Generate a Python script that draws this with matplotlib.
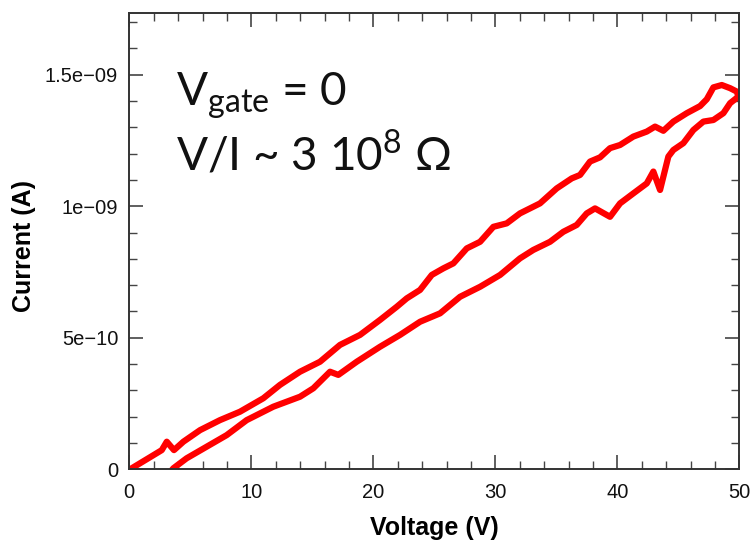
import numpy as np
import matplotlib
matplotlib.use('Agg')
import matplotlib.pyplot as plt
from matplotlib.ticker import FixedLocator, FixedFormatter, MultipleLocator

plt.rcParams['font.family'] = ['Liberation Sans', 'DejaVu Sans']
plt.rcParams['mathtext.fontset'] = 'custom'
plt.rcParams['mathtext.rm'] = 'Lato'

# forward sweep (upper branch): voltage in V, current in units of 1e-10 A
v_up = [-0.1, 0.20, 1.70, 2.66, 3.07, 3.66, 4.43, 5.80, 7.43, 9.07, 10.98, 12.35,
        13.99, 15.63, 17.27, 18.91, 20.55, 21.92, 22.74, 23.83, 24.79, 25.74,
        26.56, 27.66, 28.75, 29.84, 30.93, 32.02, 33.66, 35.03, 36.26, 36.94,
        37.76, 38.58, 39.40, 40.22, 41.31, 42.41, 43.09, 43.77, 44.59, 45.69,
        46.78, 47.33, 47.87, 48.56, 49.24, 49.79, 49.92]
i_up = [-0.05, 0.04, 0.46, 0.73, 1.05, 0.73, 1.05, 1.49, 1.87, 2.19, 2.70, 3.21,
        3.71, 4.09, 4.73, 5.11, 5.68, 6.18, 6.50, 6.82, 7.39, 7.64,
        7.83, 8.40, 8.65, 9.22, 9.35, 9.73, 10.11, 10.68, 11.06, 11.19,
        11.70, 11.86, 12.21, 12.33, 12.65, 12.84, 13.03, 12.87, 13.22, 13.54,
        13.81, 14.07, 14.52, 14.61, 14.49, 14.36, 14.17]

# reverse sweep (lower branch)
v_down = [49.92, 49.24, 48.69, 47.87, 47.05, 46.23, 45.41, 44.59, 44.18, 43.50,
          42.95, 42.41, 41.31, 40.22, 39.40, 38.17, 37.49, 36.67, 35.57, 34.48,
          33.11, 32.02, 30.39, 28.75, 27.11, 25.47, 23.83, 22.19, 20.55, 18.64,
          17.13, 16.45, 15.08, 13.99, 11.80, 9.62, 7.98, 6.34, 4.70, 3.61, 3.40]
i_down = [14.17, 13.92, 13.54, 13.28, 13.22, 12.90, 12.40, 12.14, 11.89, 10.62,
          11.32, 10.87, 10.49, 10.11, 9.60, 9.92, 9.73, 9.29, 9.03, 8.65,
          8.34, 8.02, 7.39, 6.94, 6.56, 5.93, 5.61, 5.11, 4.66, 4.09,
          3.59, 3.71, 3.08, 2.76, 2.38, 1.87, 1.30, 0.86, 0.42, 0.04, -0.08]

y_ticks = [0, 5e-10, 1e-9, 1.5e-9]
y_ticklabels = ['0', '5e\u221210', '1e\u221209', '1.5e\u221209']
x_ticks = [0, 10, 20, 30, 40, 50]

fig = plt.figure(figsize=(7.54, 5.42), dpi=100)
ax = fig.add_axes([0.1715, 0.1341, 0.8091, 0.8425])

for v, i in [(v_up, i_up), (v_down, i_down)]:
    ax.plot(v, np.array(i) * 1e-10, color='#ff0000', lw=4.5,
            solid_joinstyle='round', solid_capstyle='round')

ax.set_xlim(0, 50)
ax.set_ylim(0, 1.736e-9)
ax.xaxis.set_major_locator(FixedLocator(x_ticks))
ax.xaxis.set_minor_locator(MultipleLocator(2))
ax.yaxis.set_major_locator(FixedLocator(y_ticks))
ax.yaxis.set_major_formatter(FixedFormatter(y_ticklabels))
ax.yaxis.set_minor_locator(MultipleLocator(1e-10))

ax.tick_params(which='both', direction='in', top=True, right=True,
               colors='#444444', labelcolor='#111111', labelsize=14.5)
ax.tick_params(which='major', length=10, width=1.2)
ax.tick_params(which='minor', length=5.5, width=1.0)
ax.tick_params(axis='y', pad=8)
ax.tick_params(axis='x', pad=10)
for s in ax.spines.values():
    s.set_linewidth(1.4)
    s.set_color('#333333')

ax.set_xlabel('Voltage (V)', fontsize=18, fontweight='bold')
ax.set_ylabel('Current (A)', fontsize=18, fontweight='bold')
ax.xaxis.set_label_coords(0.5, -0.102)
ax.yaxis.set_label_coords(-0.153, 0.49)

ax.text(0.076, 0.796, r'V$_{\rm gate}$ = 0', transform=ax.transAxes,
        family='Lato', fontsize=33, color='#111111', va='baseline')
ax.text(0.076, 0.655, r'V/I ~ 3 10$^{\rm 8}$ $\Omega$', transform=ax.transAxes,
        family='Lato', fontsize=33, color='#111111', va='baseline')

fig.savefig('out.png', dpi=100)
